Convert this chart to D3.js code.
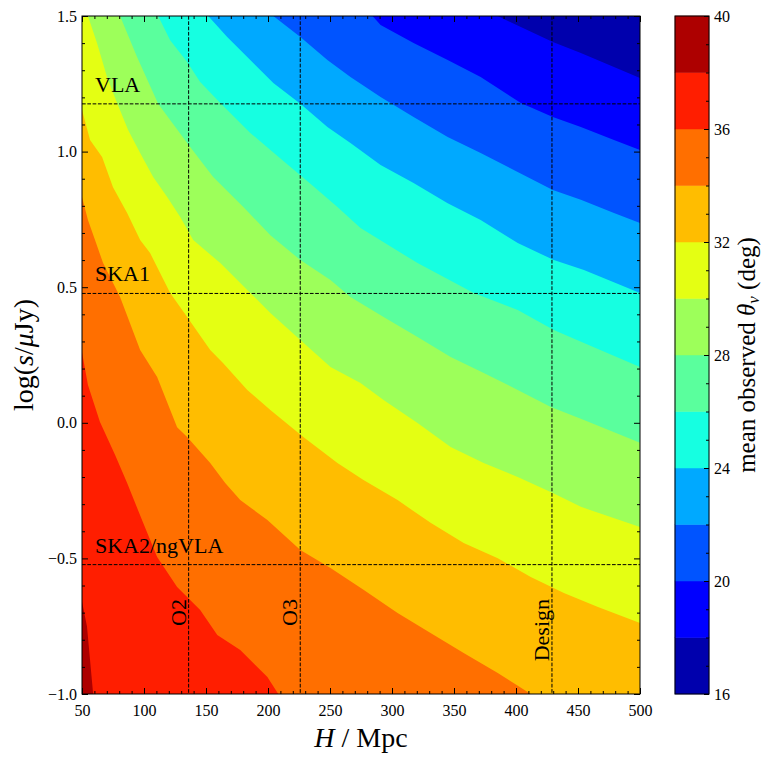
<!DOCTYPE html>
<html><head><meta charset="utf-8">
<script src="https://cdn.jsdelivr.net/npm/d3@7"></script>
<style>
body{margin:0;background:#fff}
svg{display:block}
text{font-family:"Liberation Serif","DejaVu Serif",serif;fill:#000}
</style>
</head><body>
<svg id="chart" width="773" height="763"></svg>
<script>
// ---- data ----
const levels = [16,18,20,22,24,26,28,30,32,34,36,38,40];
const bandColors = ["#0000ad","#0000ff","#0054ff","#00a9ff","#16ffe1","#5aff9d","#9dff5a","#e4ff13","#ffbd00","#ff6f00","#ff1e00","#ad0000"];

// iso-lines of mean observed viewing angle, [H (Mpc), log(s/uJy)]
const contour38 = [[50,-0.66],[54,-0.75],[59,-1.0]];
const contour36 = [[50,0.26],[54.8,0.139],[64.5,0.003],[76.7,-0.119],[86.4,-0.222],[99.3,-0.369],[110.6,-0.495],[126.7,-0.605],[145.3,-0.690],[159.1,-0.782],[177.6,-0.838],[199.5,-0.937],[208.3,-1.0]];
const contour34 = [[50,0.833],[54.8,0.748],[60.5,0.674],[67.0,0.589],[80.7,0.464],[96.9,0.268],[110.6,0.169],[126.7,-0.016],[134.8,-0.052],[153.4,-0.148],[165.5,-0.222],[177.6,-0.285],[199.5,-0.358],[226.1,-0.469],[250.4,-0.535],[277.0,-0.616],[304.5,-0.701],[331.1,-0.775],[357.8,-0.849],[385.3,-0.923],[411.9,-1.0]];
const contour32 = [[50,1.153],[56.5,1.043],[66.2,0.980],[75.0,0.869],[86.4,0.774],[96.9,0.674],[104.9,0.626],[121.1,0.479],[134.8,0.390],[153.4,0.268],[163.9,0.220],[183.3,0.121],[201.9,0.047],[228.5,-0.052],[256.0,-0.148],[277.0,-0.211],[304.5,-0.285],[331.1,-0.369],[357.8,-0.443],[385.3,-0.499],[411.9,-0.569],[438.6,-0.628],[466.1,-0.679],[500,-0.738]];
const contour30 = [[54.8,1.5],[62.1,1.400],[70.2,1.275],[78.3,1.179],[87.2,1.080],[96.9,0.995],[107.4,0.906],[118.7,0.833],[129.2,0.759],[139.7,0.674],[161.5,0.589],[185.7,0.479],[201.9,0.405],[226.1,0.305],[250.4,0.206],[274.6,0.147],[293.2,0.084],[320.6,-0.001],[347.3,-0.089],[373.9,-0.148],[401.4,-0.200],[429.7,-0.259],[452.3,-0.310],[500,-0.384]];
const contour28 = [[80.7,1.5],[94.4,1.349],[111.4,1.176],[134.8,1.032],[155.8,0.906],[180.1,0.796],[201.9,0.692],[226.1,0.600],[250.4,0.527],[266.5,0.464],[293.2,0.390],[320.6,0.316],[347.3,0.243],[374.0,0.184],[401.4,0.121],[428.1,0.058],[454.8,0.010],[500,-0.074]];
const contour26 = [[111.4,1.5],[121.1,1.411],[134.8,1.330],[145.3,1.257],[161.5,1.179],[185.7,1.069],[212.4,0.965],[234.2,0.881],[256.0,0.796],[274.6,0.718],[320.6,0.589],[365.9,0.479],[401.4,0.416],[430.5,0.342],[454.8,0.294],[500,0.206]];
const contour24 = [[151.8,1.5],[167.1,1.423],[185.7,1.338],[204.3,1.253],[226.1,1.176],[247.9,1.091],[266.5,1.032],[290.8,0.951],[317.4,0.884],[344.9,0.810],[371.5,0.748],[401.4,0.663],[430.5,0.600],[454.8,0.563],[500,0.479]];
const contour22 = [[204.3,1.5],[226.1,1.423],[247.9,1.338],[266.5,1.275],[290.8,1.201],[317.4,1.128],[344.9,1.054],[371.5,0.995],[398.2,0.932],[429.7,0.858],[452.3,0.822],[479.0,0.774],[500,0.737]];
const contour20 = [[284.3,1.5],[290.8,1.467],[317.4,1.400],[344.9,1.338],[371.5,1.275],[403.9,1.179],[429.7,1.128],[452.3,1.091],[479.0,1.043],[500,1.006]];
const contour18 = [[385.3,1.5],[403.9,1.459],[429.7,1.404],[452.3,1.364],[479.0,1.312],[500,1.271]];

const xTicks = [50,100,150,200,250,300,350,400,450,500];
const yTicks = [-1.0,-0.5,0.0,0.5,1.0,1.5];
const cbarTicks = [16,20,24,28,32,36,40];
const detectorHorizons = [136,226,429];
const detectorNames = ["O2","O3","Design"];
const radioLimits = [1.176,0.477,-0.523];
const radioNames = ["VLA","SKA1","SKA2/ngVLA"];

// ---- drawing ----
const contourLines = [[38,contour38],[36,contour36],[34,contour34],[32,contour32],[30,contour30],[28,contour28],[26,contour26],[24,contour24],[22,contour22],[20,contour20],[18,contour18]];

const svg = d3.select("#chart");
const X0=82, X1=640, Y0=16, Y1=694;
const x = d3.scaleLinear([50,500],[X0,X1]);
const y = d3.scaleLinear([-1,1.5],[Y1,Y0]);
const bandColor = lo => bandColors[levels.indexOf(lo)];

svg.append("defs").append("clipPath").attr("id","plotclip")
  .append("rect").attr("x",X0).attr("y",Y0).attr("width",X1-X0).attr("height",Y1-Y0);

const plot = svg.append("g").attr("clip-path","url(#plotclip)");
plot.append("rect").attr("x",X0).attr("y",Y0).attr("width",X1-X0).attr("height",Y1-Y0)
  .attr("fill",bandColor(38));

const line = d3.line().x(d=>x(d[0])).y(d=>y(d[1]));
contourLines.forEach(([lvl,pts])=>{
  const first = pts[0], last = pts[pts.length-1];
  const poly = pts.concat([[510,last[1]],[510,1.6],[first[0],1.6]]);
  plot.append("path").attr("d",line(poly)+"Z").attr("fill",bandColor(lvl-2));
});

// dashed reference lines
const dash = "3.7,1.6";
radioLimits.forEach(v=>{
  svg.append("line").attr("x1",X0).attr("x2",X1).attr("y1",y(v)).attr("y2",y(v))
    .attr("stroke","#000").attr("stroke-width",1).attr("stroke-dasharray",dash);
});
detectorHorizons.forEach(v=>{
  svg.append("line").attr("x1",x(v)).attr("x2",x(v)).attr("y1",Y0).attr("y2",Y1)
    .attr("stroke","#000").attr("stroke-width",1).attr("stroke-dasharray",dash);
});

// annotations
radioNames.forEach((n,i)=>{
  svg.append("text").attr("x",X0+13).attr("y",y(radioLimits[i])-12)
    .attr("font-size",22).text(n);
});
detectorNames.forEach((n,i)=>{
  svg.append("text").attr("transform",`translate(${x(detectorHorizons[i])-3},599) rotate(-90)`)
    .attr("text-anchor","end").attr("font-size",22).text(n);
});

// axes ticks
function styleAxis(g){ g.select(".domain").remove(); g.selectAll("line").attr("stroke","#000"); g.selectAll("text").attr("font-family",null).attr("font-size",16); }
const xMinor = d3.range(50,501,10).filter(v=>v%50!==0);
const yMinor = d3.range(-10,16,1).filter(v=>v%5!==0).map(v=>v/10);

svg.append("g").attr("transform",`translate(0,${Y1})`)
  .call(d3.axisBottom(x).tickValues(xTicks).tickSizeInner(-6).tickSizeOuter(0).tickPadding(11).tickFormat(d3.format("d"))).call(styleAxis);
svg.append("g").attr("transform",`translate(0,${Y1})`)
  .call(d3.axisBottom(x).tickValues(xMinor).tickSize(-3).tickFormat("")).call(styleAxis);
svg.append("g").attr("transform",`translate(0,${Y0})`)
  .call(d3.axisTop(x).tickValues(xTicks).tickSize(-6).tickFormat("")).call(styleAxis);
svg.append("g").attr("transform",`translate(0,${Y0})`)
  .call(d3.axisTop(x).tickValues(xMinor).tickSize(-3).tickFormat("")).call(styleAxis);

svg.append("g").attr("transform",`translate(${X0},0)`)
  .call(d3.axisLeft(y).tickValues(yTicks).tickSizeInner(-6).tickSizeOuter(0).tickPadding(5).tickFormat(d3.format(".1f"))).call(styleAxis);
svg.append("g").attr("transform",`translate(${X0},0)`)
  .call(d3.axisLeft(y).tickValues(yMinor).tickSize(-3).tickFormat("")).call(styleAxis);
svg.append("g").attr("transform",`translate(${X1},0)`)
  .call(d3.axisRight(y).tickValues(yTicks).tickSize(-6).tickFormat("")).call(styleAxis);
svg.append("g").attr("transform",`translate(${X1},0)`)
  .call(d3.axisRight(y).tickValues(yMinor).tickSize(-3).tickFormat("")).call(styleAxis);

svg.append("rect").attr("x",X0).attr("y",Y0).attr("width",X1-X0).attr("height",Y1-Y0)
  .attr("fill","none").attr("stroke","#000").attr("stroke-width",1);

// axis labels
const xl = svg.append("text").attr("x",(X0+X1)/2).attr("y",747).attr("text-anchor","middle").attr("font-size",28);
xl.append("tspan").attr("font-style","italic").text("H");
xl.append("tspan").text(" / Mpc");

const yl = svg.append("text").attr("transform",`translate(33,${(Y0+Y1)/2}) rotate(-90)`).attr("text-anchor","middle").attr("font-size",28);
yl.append("tspan").text("log(");
yl.append("tspan").attr("font-style","italic").text("s");
yl.append("tspan").text("/");
yl.append("tspan").attr("font-style","italic").text("μ");
yl.append("tspan").text("Jy)");

// colorbar
const CB0=675, CB1=709;
const c = d3.scaleLinear([16,40],[Y1,Y0]);
const cb = svg.append("g");
d3.range(levels.length-1).forEach(i=>{
  cb.append("rect").attr("x",CB0).attr("width",CB1-CB0)
    .attr("y",c(levels[i+1])).attr("height",c(levels[i])-c(levels[i+1]))
    .attr("fill",bandColors[i]).attr("stroke",bandColors[i]).attr("stroke-width",0.5);
});
const cMinor = d3.range(16,41,1).filter(v=>v%4!==0);
svg.append("g").attr("transform",`translate(${CB1},0)`)
  .call(d3.axisRight(c).tickValues(cbarTicks).tickSizeInner(-5).tickSizeOuter(0).tickPadding(5).tickFormat(d3.format("d"))).call(styleAxis);
svg.append("g").attr("transform",`translate(${CB1},0)`)
  .call(d3.axisRight(c).tickValues(cMinor).tickSize(-3).tickFormat("")).call(styleAxis);
svg.append("rect").attr("x",CB0).attr("y",Y0).attr("width",CB1-CB0).attr("height",Y1-Y0)
  .attr("fill","none").attr("stroke","#000").attr("stroke-width",1);

const cl = svg.append("text").attr("transform",`translate(755,${(Y0+Y1)/2}) rotate(-90)`).attr("text-anchor","middle").attr("font-size",25);
cl.append("tspan").text("mean observed ");
cl.append("tspan").attr("font-style","italic").text("θ");
cl.append("tspan").attr("font-style","italic").attr("font-size",17).attr("dy",4).text("v");
cl.append("tspan").attr("dy",-4).text(" (deg)");
</script>
</body></html>
